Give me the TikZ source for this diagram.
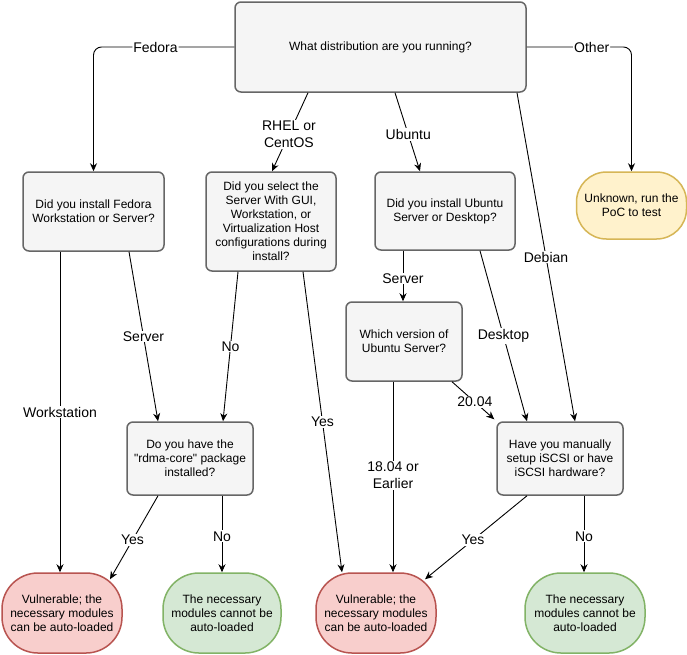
\documentclass[tikz,border=0pt]{standalone}
\usepackage{fontspec}
\setmainfont{Liberation Sans}
\newfontfamily\plainq{Liberation Sans}
\usetikzlibrary{arrows.meta}
\definecolor{gfill}{HTML}{F5F5F5}
\definecolor{gdraw}{HTML}{666666}
\definecolor{rfill}{HTML}{F8CECC}
\definecolor{rdraw}{HTML}{B85450}
\definecolor{ngfill}{HTML}{D5E8D4}
\definecolor{ngdraw}{HTML}{82B366}
\definecolor{yfill}{HTML}{FFF2CC}
\definecolor{ydraw}{HTML}{D6B656}
\tikzset{
  qbox/.style={draw=gdraw, fill=gfill, line width=1.5pt, rounded corners=6pt, align=center, inner sep=0pt, font=\fontsize{12}{14}\selectfont},
  vuln/.style={draw=rdraw, fill=rfill, line width=1.5pt, rounded corners=36pt, align=center, inner sep=0pt, minimum width=120pt, minimum height=80pt, font=\fontsize{12}{14}\selectfont},
  safe/.style={draw=ngdraw, fill=ngfill, line width=1.5pt, rounded corners=36pt, align=center, inner sep=0pt, minimum width=118pt, minimum height=80pt, font=\fontsize{12}{14}\selectfont},
  unkbox/.style={draw=ydraw, fill=yfill, line width=1.5pt, rounded corners=30pt, align=center, inner sep=0pt, minimum width=110pt, minimum height=67pt, font=\fontsize{12}{14}\selectfont},
  conn/.style={draw=black, line width=0.9pt, -{Stealth[length=8pt,width=7pt]}},
  lbl/.style={fill=white, inner sep=1pt, align=center, font=\fontsize{14}{17}\selectfont},
}
\begin{document}
\begin{tikzpicture}[x=1pt,y=-1pt]
\useasboundingbox (0,0) rectangle (687,654);
\fill[white] (0,0) rectangle (687,654);

% nodes
\node[qbox, minimum width=291pt, minimum height=90pt] (top) at (380.5,47) {What distribution are you running?};
\node[qbox, minimum width=141pt, minimum height=79pt] (fed) at (93.5,211.5) {Did you install Fedora\\Workstation or Server?};
\node[qbox, minimum width=130pt, minimum height=99pt] (rhel) at (271,221.5) {Did you select the\\Server With GUI,\\Workstation, or\\Virtualization Host\\configurations during\\install?};
\node[qbox, minimum width=140pt, minimum height=78pt] (ubu) at (445,211) {Did you install Ubuntu\\Server or Desktop?};
\node[unkbox] (unk) at (631.5,205.5) {Unknown, run the\\PoC to test};
\node[qbox, minimum width=116pt, minimum height=79pt] (which) at (404,341.5) {Which version of\\Ubuntu Server?};
\node[qbox, minimum width=126pt, minimum height=73pt] (rdma) at (190,458.5) {Do you have the\\{\plainq"}rdma-core{\plainq"} package\\installed?};
\node[qbox, minimum width=126pt, minimum height=73pt] (have) at (560,458.5) {Have you manually\\setup iSCSI or have\\iSCSI hardware?};
\node[vuln] (v1) at (62,613) {Vulnerable; the\\necessary modules\\can be auto-loaded};
\node[safe] (g1) at (222,613) {The necessary\\modules cannot be\\auto-loaded};
\node[vuln] (v2) at (376,613) {Vulnerable; the\\necessary modules\\can be auto-loaded};
\node[safe, minimum width=120pt] (g2) at (585,613) {The necessary\\modules cannot be\\auto-loaded};

% connectors from top
\draw[conn, rounded corners=8pt] (top.west) -| node[lbl, pos=0.28] {Fedora} (fed.north);
\draw[conn, rounded corners=8pt] (top.east) -| node[lbl, pos=0.31] {Other} (unk.north);
\draw[conn] ([xshift=-72.5pt]top.south) -- node[lbl, pos=0.53] {RHEL or\\CentOS} ([xshift=1pt]rhel.north);
\draw[conn] ([xshift=14.5pt]top.south) -- node[lbl, pos=0.53] {Ubuntu} ([xshift=-25pt]ubu.north);
\draw[conn] ([xshift=136.5pt]top.south) -- node[lbl, pos=0.5] {Debian} ([xshift=15pt]have.north);

% Fedora
\draw[conn] ([xshift=-33.5pt]fed.south) -- node[lbl, pos=0.5] {Workstation} ([xshift=-2pt]v1.north);
\draw[conn] ([xshift=35.5pt]fed.south) -- node[lbl, pos=0.5] {Server} ([xshift=-32pt]rdma.north);

% RHEL
\draw[conn] ([xshift=-33pt]rhel.south) -- node[lbl, pos=0.5] {No} ([xshift=33pt]rdma.north);
\draw[conn] ([xshift=32pt]rhel.south) -- node[lbl, pos=0.5] {Yes} ([xshift=-34pt]v2.north);

% Ubuntu
\draw[conn] ([xshift=-42pt]ubu.south) -- node[lbl, pos=0.55] {Server} ([xshift=-1pt]which.north);
\draw[conn] ([xshift=35pt]ubu.south) -- node[lbl, pos=0.5] {Desktop} ([xshift=-33pt]have.north);

% Which version
\draw[conn] ([xshift=48pt]which.south) -- node[lbl, pos=0.54] {20.04} ([xshift=-2pt,yshift=2pt]have.north west);
\draw[conn] ([xshift=-11pt]which.south) -- node[lbl, pos=0.49] {18.04 or\\Earlier} ([xshift=17pt]v2.north);

% Have
\draw[conn] ([xshift=-33pt]have.south) -- node[lbl, pos=0.53] {Yes} ([xshift=49pt,yshift=-7pt]v2.north);
\draw[conn] ([xshift=24pt]have.south) -- node[lbl, pos=0.53] {No} ([xshift=-1pt]g2.north);

% rdma
\draw[conn] ([xshift=-32pt]rdma.south) -- node[lbl, pos=0.53] {Yes} ([xshift=48pt,yshift=-7pt]v1.north);
\draw[conn] ([xshift=32pt]rdma.south) -- node[lbl, pos=0.53] {No} (g1.north);
\end{tikzpicture}
\end{document}
